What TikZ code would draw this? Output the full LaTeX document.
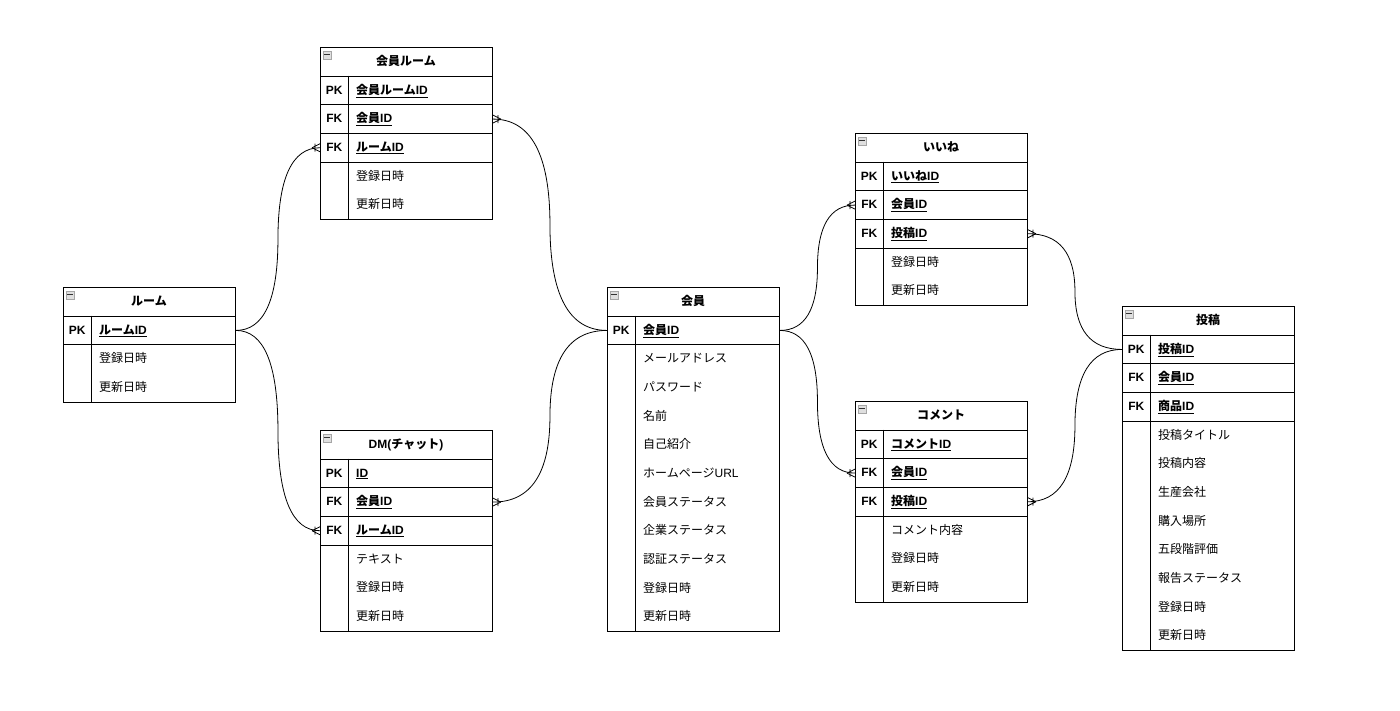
\documentclass[tikz,border=0pt]{standalone}
\usepackage{fontspec}
\setmainfont{Liberation Sans}
\newfontfamily\jp{Noto Sans CJK JP}
\usetikzlibrary{calc}
\newcommand{\J}[1]{{\jp #1}}

\tikzset{
 tblbox/.style={draw, line width=0.9pt, minimum width=172pt, inner sep=0pt, fill=white},
 keyrow/.style={draw, line width=0.9pt, minimum width=172pt, minimum height=28.65pt, inner sep=0pt},
 titletxt/.style={font=\fontsize{12}{14}\selectfont\bfseries, inner sep=0pt, anchor=base},
 keytxt/.style={font=\fontsize{12}{14}\selectfont\bfseries, inner sep=0pt, anchor=base},
 fieldtxt/.style={font=\fontsize{12}{14}\selectfont, inner sep=0pt, anchor=base west},
 keyfield/.style={font=\fontsize{12}{14}\selectfont\bfseries, inner sep=0pt, anchor=base west},
 iconbox/.style={draw=gray!70, fill=gray!25, minimum size=8pt, inner sep=0pt, line width=0.6pt},
 icondash/.style={draw=gray!40!black, line width=0.9pt},
 divider/.style={line width=0.9pt},
 link/.style={line width=0.8pt},
}

% #1 name, #2 x, #3 top, #4 number of keys, #5 number of rows, #6 title, #7 keys, #8 attributes
\newcommand{\ertable}[8]{%
 \node[tblbox, minimum height={(#5+1)*28.65pt}, anchor=north west] (#1) at (#2,#3) {};
 \node[iconbox, anchor=north west] (#1-icon) at ({#2+2.5},{#3+3.5}) {};
 \draw[icondash] ($(#1-icon.west)+(1.6,0)$) -- ($(#1-icon.east)+(-1.6,0)$);
 \node[titletxt] (#1-title) at ({#2+86},{#3+18.6}) {#6};
 \foreach \k/\f [count=\i] in {#7} {
   \node[keyrow, anchor=north west] (#1-r\i) at ({#2},{#3+28.65*\i}) {};
   \node[keytxt] (#1-k\i) at ({#2+14.3},{#3+28.65*\i+18.6}) {\k};
   \node[keyfield] (#1-f\i) at ({#2+36},{#3+28.65*\i+18.6}) {\underline{\f}};
 }
 \foreach \a [count=\j] in {#8} {
   \node[fieldtxt] (#1-a\j) at ({#2+36},{#3+28.65*(#4+\j)+18.6}) {\a};
 }
 \draw[divider] ($(#1.north west)+(28.65,28.65)$) -- ($(#1.south west)+(28.65,0)$);
}

% #1 start, #2 end, #3 prefix
\newcommand{\erlink}[3]{%
 \coordinate (#3m) at ($(#1)!0.5!(#2)$);
 \coordinate (#3p) at (#3m |- #1);
 \coordinate (#3q) at (#3m |- #2);
 \draw[link] (#1) .. controls ($(#1)!0.6667!(#3p)$) and ($(#3m)!0.6667!(#3p)$) .. (#3m)
   .. controls ($(#3m)!0.6667!(#3q)$) and ($(#2)!0.6667!(#3q)$) .. (#2);
}

% #1 anchor, #2 outward direction (1 or -1)
\newcommand{\ercrow}[2]{%
 \draw[link] ($(#1)+({#2*8},0)$) -- ($(#1)+(0,4)$)
             ($(#1)+({#2*8},0)$) -- ($(#1)+(0,-4)$)
             ($(#1)+({#2*5},-4)$) -- ($(#1)+({#2*5},4)$);
}

\begin{document}
\begin{tikzpicture}[x=1pt, y=-1pt]
\fill[white] (0,0) rectangle (1400,710);
\useasboundingbox (0,0) rectangle (1400,710);

\ertable{room}{63}{287}{1}{3}{\J{ルーム}}
  {PK/\J{ルーム}ID}
  {\J{登録日時},\J{更新日時}}

\ertable{kroom}{320}{47}{3}{5}{\J{会員ルーム}}
  {PK/\J{会員ルーム}ID,FK/\J{会員}ID,FK/\J{ルーム}ID}
  {\J{登録日時},\J{更新日時}}

\ertable{dm}{320}{430}{3}{6}{DM(\J{チャット})}
  {PK/ID,FK/\J{会員}ID,FK/\J{ルーム}ID}
  {\J{テキスト},\J{登録日時},\J{更新日時}}

\ertable{kaiin}{607}{287}{1}{11}{\J{会員}}
  {PK/\J{会員}ID}
  {\J{メールアドレス},\J{パスワード},\J{名前},\J{自己紹介},\J{ホームページ}URL,\J{会員ステータス},\J{企業ステータス},\J{認証ステータス},\J{登録日時},\J{更新日時}}

\ertable{iine}{855}{133}{3}{5}{\J{いいね}}
  {PK/\J{いいね}ID,FK/\J{会員}ID,FK/\J{投稿}ID}
  {\J{登録日時},\J{更新日時}}

\ertable{comment}{855}{401}{3}{6}{\J{コメント}}
  {PK/\J{コメント}ID,FK/\J{会員}ID,FK/\J{投稿}ID}
  {\J{コメント内容},\J{登録日時},\J{更新日時}}

\ertable{toukou}{1122}{306}{3}{11}{\J{投稿}}
  {PK/\J{投稿}ID,FK/\J{会員}ID,FK/\J{商品}ID}
  {\J{投稿タイトル},\J{投稿内容},\J{生産会社},\J{購入場所},\J{五段階評価},\J{報告ステータス},\J{登録日時},\J{更新日時}}

\erlink{room-r1.east}{kroom-r3.west}{la}
\ercrow{kroom-r3.west}{-1}
\erlink{kaiin-r1.west}{kroom-r2.east}{lb}
\ercrow{kroom-r2.east}{1}
\erlink{room-r1.east}{dm-r3.west}{lc}
\ercrow{dm-r3.west}{-1}
\erlink{kaiin-r1.west}{dm-r2.east}{ld}
\ercrow{dm-r2.east}{1}
\erlink{kaiin-r1.east}{iine-r2.west}{le}
\ercrow{iine-r2.west}{-1}
\erlink{kaiin-r1.east}{comment-r2.west}{lf}
\ercrow{comment-r2.west}{-1}
\erlink{toukou-r1.west}{iine-r3.east}{lg}
\ercrow{iine-r3.east}{1}
\erlink{toukou-r1.west}{comment-r3.east}{lh}
\ercrow{comment-r3.east}{1}
\end{tikzpicture}
\end{document}
